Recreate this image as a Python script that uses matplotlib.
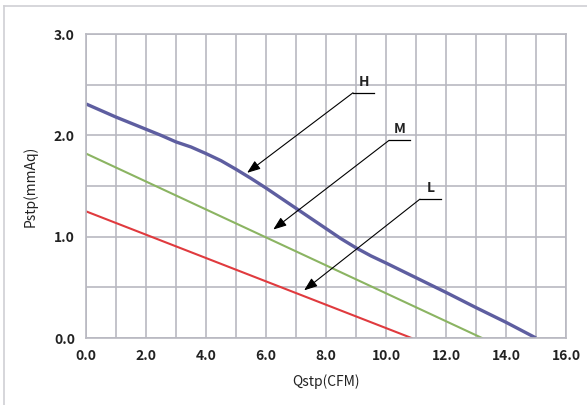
import numpy as np
import matplotlib.pyplot as plt
from matplotlib.lines import Line2D

plt.rcParams['font.family'] = ['Noto Sans CJK SC', 'DejaVu Sans']

# H curve
h_q = [0.0, 1.0, 2.0, 2.5, 3.0, 3.5, 4.0, 4.5, 5.0, 5.5, 6.0, 7.0, 8.0, 8.5, 9.0, 9.5, 10.0, 11.0, 12.0, 13.0, 14.0, 15.0]
h_p = [2.31, 2.18, 2.06, 2.0, 1.935, 1.885, 1.82, 1.75, 1.665, 1.575, 1.48, 1.28, 1.08, 0.98, 0.89, 0.81, 0.74, 0.595, 0.45, 0.30, 0.155, 0.0]
# M and L are straight lines
m_q = [0.0, 13.2]
m_p = [1.82, 0.0]
l_q = [0.0, 10.85]
l_p = [1.25, 0.0]

# labels: (text, underline start, arrow tip)
notes = [
    ('H', (8.9, 2.42), (5.37, 1.63)),
    ('M', (10.1, 1.95), (6.24, 1.07)),
    ('L', (11.13, 1.37), (7.27, 0.47)),
]

fig = plt.figure(figsize=(5.87, 4.05), dpi=100)
ax = fig.add_axes([86 / 587, 1 - 338 / 405, 480 / 587, 304 / 405])

grid_c = '#b9b9c1'
ax.set_xlim(0, 16)
ax.set_ylim(0, 3)
ax.set_xticks(np.arange(0, 17, 2))
ax.set_xticks(np.arange(0, 17, 1), minor=True)
ax.set_yticks(np.arange(0, 3.1, 1.0))
ax.set_yticks(np.arange(0, 3.1, 0.5), minor=True)
ax.grid(True, which='both', color=grid_c, linewidth=1.2)
for s in ax.spines.values():
    s.set_color(grid_c)
    s.set_linewidth(1.2)
ax.set_axisbelow(True)
ax.tick_params(which='both', length=0)
ax.tick_params(axis='x', pad=8)
ax.tick_params(axis='y', pad=8)
ax.set_xticklabels(['%.1f' % v for v in np.arange(0, 17, 2)], fontsize=10, fontweight='bold', color='#222222')
ax.set_yticklabels(['%.1f' % v for v in np.arange(0, 3.1, 1.0)], fontsize=10, fontweight='bold', color='#222222')

ax.plot(h_q, h_p, color='#5e5ea0', linewidth=2.4, solid_capstyle='butt', solid_joinstyle='round')
ax.plot(m_q, m_p, color='#8bb462', linewidth=1.5)
ax.plot(l_q, l_p, color='#e03a3e', linewidth=1.5)

for name, start, tip in notes:
    ax.plot([start[0], start[0] + 0.7], [start[1], start[1]], color='black', linewidth=0.9)
    ax.annotate('', xy=tip, xytext=start,
                arrowprops=dict(arrowstyle='-|>,head_length=0.8,head_width=0.3', color='black', lw=0.8,
                                shrinkA=0, shrinkB=0))
    ax.text(start[0] + 0.35, start[1] + 0.04, name, ha='center', va='bottom', fontsize=10,
            fontweight='bold', color='#222222')

ax.set_xlabel('Qstp(CFM)', fontsize=10, color='#222222', labelpad=8)
ax.set_ylabel('Pstp(mmAq)', fontsize=10, color='#222222', labelpad=12)

# light frame around the picture
fig.add_artist(Line2D([4 / 587, 4 / 587], [0, 1 - 6 / 405], color='#d0d0d4', linewidth=1.2))
fig.add_artist(Line2D([4 / 587, 1], [1 - 6 / 405, 1 - 6 / 405], color='#d0d0d4', linewidth=1.2))

fig.savefig('out.png', dpi=100)
